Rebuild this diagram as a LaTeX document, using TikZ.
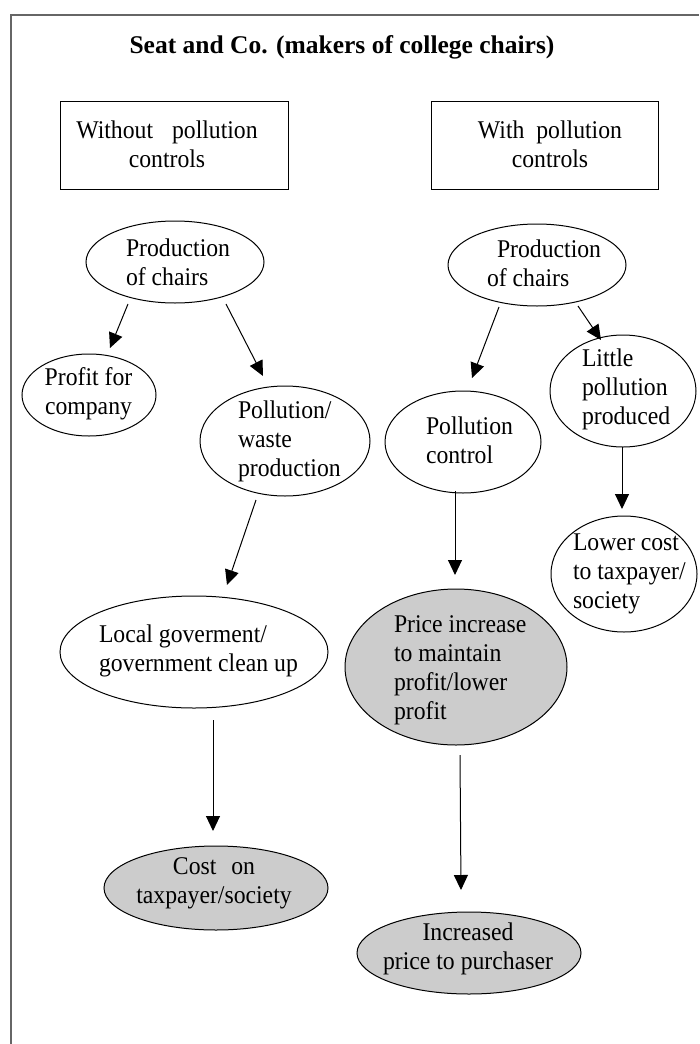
\documentclass[tikz,border=0pt]{standalone}
\usepackage{fontspec}
\setmainfont{Liberation Serif}
\newfontfamily\condfont[FakeStretch=0.93]{Liberation Serif}
\usetikzlibrary{arrows.meta,shapes.geometric}
\begin{document}
\begin{tikzpicture}[x=1pt,y=-1pt,
  ell/.style={draw, ellipse, line width=1pt, inner sep=0pt, outer sep=0pt},
  grey/.style={fill=black!20},
  txt/.style={inner sep=0pt, outer sep=0pt, font=\condfont\fontsize{25.5}{29}\selectfont},
  titletxt/.style={inner sep=0pt, font=\fontsize{25.5}{30}\selectfont\bfseries},
  boxed/.style={draw, rectangle, line width=1pt, inner sep=0pt},
  arr/.style={line width=1pt, -{Triangle[length=15pt,width=14pt]}},
  framel/.style={draw=black!60, line width=2.2pt}]
\useasboundingbox (0,0) rectangle (699,1044);
% frame
\coordinate (fbl) at (11,1044);
\coordinate (ftl) at (11,15);
\coordinate (ftr) at (699,15);
\draw[framel] (fbl) -- (ftl) -- (ftr);
% title
\node[titletxt] (title) at (342,47) {Seat and Co. (makers of college chairs)};
% header boxes
\node[boxed, minimum width=228pt, minimum height=88pt] (box1) at (174,145) {};
\node[txt, align=center] (box1t) at (167,144) {Without\hspace{13pt} pollution\\controls};
\node[boxed, minimum width=227pt, minimum height=88pt] (box2) at (544.5,145) {};
\node[txt, align=center] (box2t) at (550,144) {With\hspace{6pt} pollution\\controls};
% left column ellipses
\node[ell, minimum width=178pt, minimum height=82pt] (prodL) at (175,262) {};
\node[txt, align=left, anchor=west] (prodLt) at (126,262) {Production\\of chairs};
\node[ell, minimum width=134pt, minimum height=82pt] (profit) at (89,395) {};
\node[txt, align=center] (profitt) at (88.5,394) {Profit for\\company};
\node[ell, minimum width=170pt, minimum height=110pt] (pollw) at (285,441) {};
\node[txt, align=left, anchor=west] (pollwt) at (238,441) {Pollution/\\waste\\production};
\node[ell, minimum width=268pt, minimum height=112pt] (local) at (194,652) {};
\node[txt, align=left, anchor=west] (localt) at (99,651) {Local goverment/\\government clean up};
\node[ell, grey, minimum width=224pt, minimum height=84pt] (cost) at (216,888) {};
\node[txt, align=center] (costt) at (214,883.5) {Cost\hspace{9pt} on\\taxpayer/society};
% right column ellipses
\node[ell, minimum width=178pt, minimum height=82pt] (prodR) at (537,265) {};
\node[txt, align=left, anchor=west] (prodRt) at (487,263) {\hspace*{10pt}Production\\of chairs};
\node[ell, minimum width=146pt, minimum height=112pt] (little) at (623,391) {};
\node[txt, align=left, anchor=west] (littlet) at (582,389) {Little\\pollution\\produced};
\node[ell, minimum width=156pt, minimum height=102pt] (pctrl) at (463,442) {};
\node[txt, align=left, anchor=west] (pctrlt) at (426,440.5) {Pollution\\control};
\node[ell, minimum width=146pt, minimum height=116pt] (lower) at (624,574) {};
\node[txt, align=left, anchor=west] (lowert) at (573,574) {Lower cost\\to taxpayer/\\society};
\node[ell, grey, minimum width=222pt, minimum height=156pt] (price) at (456,667) {};
\node[txt, align=left, anchor=west] (pricet) at (394,670) {Price increase\\to maintain\\profit/lower\\profit};
\node[ell, grey, minimum width=224pt, minimum height=82pt] (incr) at (469,953) {};
\node[txt, align=center] (incrt) at (468,949) {Increased\\price to purchaser};
% connectors
\draw[arr] ([shift={(-47,1)}]prodL.south) -- ([shift={(21,-6)}]profit.north);
\draw[arr] ([shift={(51,1)}]prodL.south) -- ([shift={(-22,-10)}]pollw.north);
\draw[arr] ([shift={(-29,4)}]pollw.south) -- ([shift={(33,-11)}]local.north);
\draw[arr] ([shift={(19,12)}]local.south) -- ([shift={(-3,-15)}]cost.north);
\draw[arr] ([shift={(-38,1)}]prodR.south) -- ([shift={(9,-13)}]pctrl.north);
\draw[arr] ([shift={(41,0)}]prodR.south) -- ([shift={(-22,5)}]little.north);
\draw[arr] ([shift={(-1,0)}]little.south) -- ([shift={(-2,-7)}]lower.north);
\draw[arr] ([shift={(-8,-2)}]pctrl.south) -- ([shift={(-1,-14)}]price.north);
\draw[arr] ([shift={(4,10)}]price.south) -- ([shift={(-8,-22)}]incr.north);
\end{tikzpicture}
\end{document}
